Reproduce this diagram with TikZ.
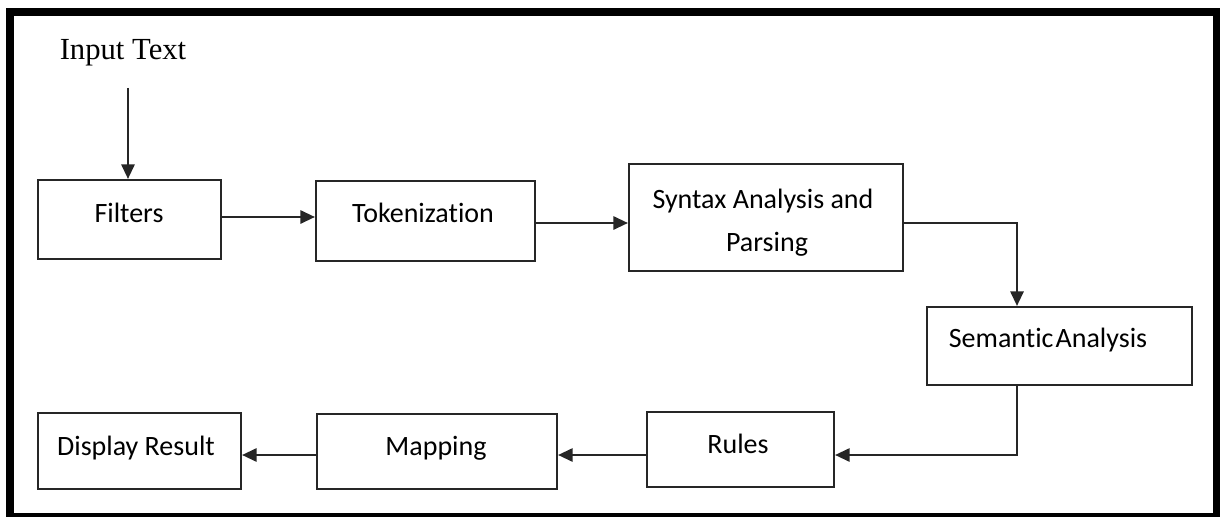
\documentclass[tikz,border=0pt]{standalone}
\usepackage{fontspec}
\newfontfamily\boxfont[RawFeature={-liga;-clig}]{Carlito}
\newfontfamily\serffont{Liberation Serif}
\usetikzlibrary{fit,arrows.meta}

\tikzset{
  stage/.style={draw=black!85, line width=1.6pt, inner sep=0pt, fill=white},
  lbl/.style={anchor=base, inner sep=0pt, font=\boxfont\fontsize{21}{25}\selectfont, text=black},
  arr/.style={draw=black!85, line width=1.6pt, -{Triangle[length=11pt,width=10pt]}}
}

\begin{document}
\begin{tikzpicture}[x=0.75pt, y=-0.75pt]
  \useasboundingbox (0,0) rectangle (1220,517);
  % heavy outer frame
  \fill[black] (6,8) rectangle (1220,517);
  \fill[white] (14,16) rectangle (1213,513);

  % stages
  \node[stage, fit={(38,180)(221,259)}] (filters) {};
  \node[stage, fit={(316,181)(535,261)}] (token) {};
  \node[stage, fit={(629,164)(903,271)}] (syntax) {};
  \node[stage, fit={(927,307)(1192,385)}] (semantic) {};
  \node[stage, fit={(647,412)(834,487)}] (rules) {};
  \node[stage, fit={(317,414)(557,489)}] (mapping) {};
  \node[stage, fit={(38,413)(241,489)}] (display) {};

  % stage texts
  \node[lbl] (tFilters) at (129,222) {Filters};
  \node[lbl] (tToken) at (423,222) {Tokenization};
  \node[lbl] (tSyntaxA) at (763,208) {Syntax Analysis and};
  \node[lbl] (tSyntaxB) at (767,251) {Parsing};
  \node[lbl] (tSemantic) at (1048,347) {Semantic\hspace{-0.15em} Analysis};
  \node[lbl] (tRules) at (738,453) {Rules};
  \node[lbl] (tMapping) at (436,455) {Mapping};
  \node[lbl] (tDisplay) at (136,455) {Display Result};

  \node[anchor=base, inner sep=0pt, font=\serffont\fontsize{23}{27}\selectfont] (input) at (123,60) {Input Text};

  % connectors
  \coordinate (inStart) at (128,88);
  \coordinate (c0) at (0,217);
  \coordinate (c1) at (1017,223);
  \coordinate (c2) at (1017,455);

  \draw[arr] (inStart) -- (inStart |- filters.north);
  \draw[arr] (filters.east |- c0) -- (token.west |- c0);
  \draw[arr] (token.east |- c1) -- (syntax.west |- c1);
  \draw[arr] (syntax.east |- c1) -- (c1) -- (c1 |- semantic.north);
  \draw[arr] (c2 |- semantic.south) -- (c2) -- (c2 -| rules.east);
  \draw[arr] (rules.west |- c2) -- (mapping.east |- c2);
  \draw[arr] (mapping.west |- c2) -- (display.east |- c2);
\end{tikzpicture}
\end{document}
